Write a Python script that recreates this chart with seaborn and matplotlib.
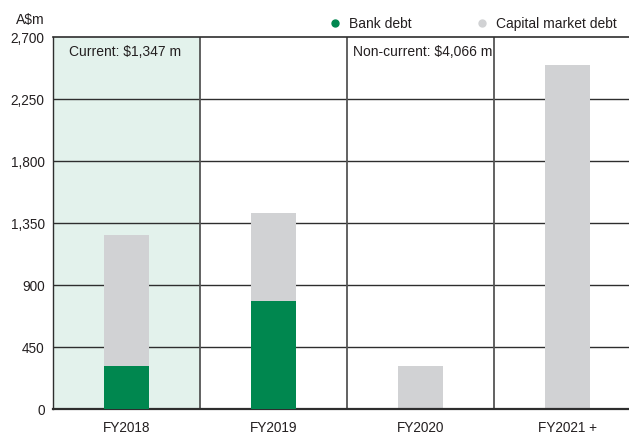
import matplotlib
matplotlib.use("Agg")
import matplotlib.pyplot as plt
from matplotlib.lines import Line2D
from matplotlib.patches import Rectangle
import seaborn as sns
import numpy as np

# Debt maturity profile (A$m)
categories = ["FY2018", "FY2019", "FY2020", "FY2021 +"]
bank_debt = [314, 784, 0, 0]
capital_market_debt = [951, 639, 314, 2497]
yticks = [0, 450, 900, 1350, 1800, 2250, 2700]
ytick_labels = ["0", "450", "900", "1,350", "1,800", "2,250", "2,700"]

GREEN = "#00874f"
GREY = "#d1d2d4"
SHADE = "#e3f2ec"
TEXT = "#231f20"

sns.set_theme(style="white")
plt.rcParams["font.family"] = ["Liberation Sans", "DejaVu Sans"]

fig = plt.figure(figsize=(6.29, 4.35), dpi=100)
W, H = 629, 435
ax = fig.add_axes([53 / W, 25 / H, 576 / W, 372 / H])

totals = list(np.array(bank_debt) + np.array(capital_market_debt))

# "Current" period shading
ax.add_patch(Rectangle((-0.5, 0), 1.0, 2700, facecolor=SHADE, edgecolor="none", zorder=0))

sns.barplot(x=categories, y=totals, color=GREY, width=0.306, saturation=1,
            linewidth=0, edgecolor="none", ax=ax, zorder=2)
sns.barplot(x=categories, y=bank_debt, color=GREEN, width=0.306, saturation=1,
            linewidth=0, edgecolor="none", ax=ax, zorder=3)

ax.set_xlim(-0.5, 3.418)
ax.set_ylim(0, 2700)

for y in yticks[1:-1]:
    ax.axhline(y, color="#2e2e2e", lw=1.0, zorder=1)
for x in [0.5, 1.5, 2.5]:
    ax.axvline(x, color="#555555", lw=1.3, zorder=1)

for side in ["left", "top", "bottom"]:
    ax.spines[side].set_visible(True)
    ax.spines[side].set_color("#2e2e2e")
ax.spines["bottom"].set_linewidth(1.6)
ax.spines["left"].set_linewidth(1.0)
ax.spines["top"].set_linewidth(1.2)
ax.spines["right"].set_visible(False)

ax.set_yticks(yticks)
ax.set_yticklabels(ytick_labels)
ax.tick_params(axis="y", length=0, pad=6, labelsize=9.8, labelcolor=TEXT)
ax.tick_params(axis="x", length=0, pad=8, labelsize=9.8, labelcolor=TEXT)
ax.set_xlabel("")
ax.set_ylabel("")

# Period annotations
ax.text(-0.39, 2600, "Current: $1,347 m", ha="left", va="center", fontsize=10, color=TEXT)
ax.text(1.54, 2600, "Non-current: $4,066 m", ha="left", va="center", fontsize=10, color=TEXT)

# Unit label
fig.text(16 / W, 1 - 20 / H, "A$m", ha="left", va="center", fontsize=10, color=TEXT)

# Legend
for xd, col, lab in [(335, GREEN, "Bank debt"), (482, GREY, "Capital market debt")]:
    fig.add_artist(Line2D([xd / W], [1 - 24 / H], marker="o", markersize=5,
                          color=col, linestyle="none", transform=fig.transFigure))
    fig.text((xd + 14) / W, 1 - 24 / H, lab, ha="left", va="center", fontsize=10, color=TEXT)

fig.savefig("out.png", dpi=100)
